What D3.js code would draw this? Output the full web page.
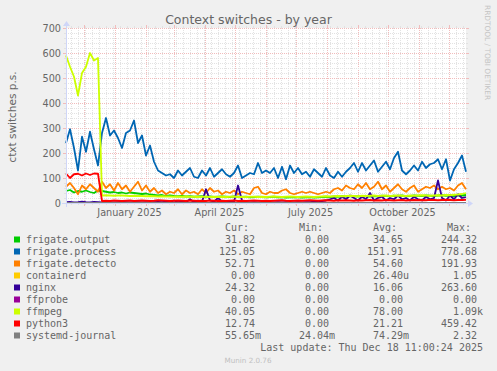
<!DOCTYPE html>
<html>
<head>
<meta charset="utf-8">
<script src="https://cdn.jsdelivr.net/npm/d3@7"></script>
<style>
  html, body { margin: 0; padding: 0; background: #f0f0f0; }
  svg { display: block; }
  text { fill: #666; }
</style>
</head>
<body>
<svg id="chart" width="497" height="371"></svg>
<script>
/* Munin style "Context switches - by year" graph */

const TITLE = 'Context switches - by year';
const Y_LABEL = 'ctxt switches p.s.';
const LAST_UPDATE = 'Last update: Thu Dec 18 11:00:24 2025';
const VERSION = 'Munin 2.0.76';
const WATERMARK = 'RRDTOOL / TOBI OETIKER';

const END = Date.UTC(2025, 11, 18, 11, 0, 24);
const SPAN_DAYS = 400;
const START = END - SPAN_DAYS * 86400e3;

const yTicks = [0, 100, 200, 300, 400, 500, 600, 700];
const xLabelMonths = ['January 2025', 'April 2025', 'July 2025', 'October 2025'];

// ── series (values evenly spread over the 400 days)
const frigateOutput = [
  48, 52, 42, 48, 45, 50, 44, 40, 50, 48,
  45, 42, 44, 40, 42, 38, 42, 40, 38, 36,
  38, 34, 32, 30, 32, 28, 30, 28, 27, 28,
  26, 27, 25, 26, 27, 25, 26, 24, 25, 26,
  25, 24, 26, 25, 24, 25, 23, 24, 25, 24,
  23, 24, 25, 23, 24, 22, 23, 24, 23, 22,
  23, 24, 22, 23, 24, 25, 24, 26, 25, 27,
  26, 28, 27, 26, 28, 27, 26, 28, 27, 29,
  28, 27, 29, 28, 30, 27, 28, 30, 29, 28,
  30, 29, 28, 30, 31, 29, 30, 28, 31, 30,
  32
];
const frigateProcess = [
  240, 295, 220, 130, 265, 205, 285, 215, 150, 280,
  340, 270, 290, 260, 220, 280, 290, 330, 240, 270,
  190, 230, 165, 130, 120, 110, 115, 100, 130, 110,
  125, 140, 105, 100, 130, 110, 140, 105, 120, 135,
  115, 105, 120, 150, 100, 110, 120, 115, 160, 120,
  130, 120, 140, 100, 145, 95, 150, 120, 140, 115,
  125, 105, 135, 120, 105, 140, 110, 100, 125, 105,
  125, 140, 160, 125, 160, 130, 150, 170, 125, 145,
  165, 135, 180, 205, 130, 115, 130, 150, 130, 165,
  140, 155, 160, 175, 135, 175, 90, 135, 160, 190,
  125
];
const frigateDetecto = [
  65, 80, 60, 35, 70, 55, 75, 60, 45, 85,
  60, 75, 50, 80, 55, 70, 45, 65, 85, 50,
  70, 45, 60, 40, 50, 35, 45, 40, 55, 35,
  50, 40, 45, 35, 55, 40, 60, 45, 50, 35,
  45, 40, 50, 35, 45, 40, 35, 60, 65, 40,
  35, 45, 40, 40, 50, 55, 40, 35, 40, 45,
  40, 45, 40, 35, 40, 45, 40, 55, 60, 50,
  70, 60, 55, 75, 60, 80, 55, 65, 85, 55,
  70, 45, 60, 75, 55, 45, 60, 70, 45, 55,
  65, 60, 70, 55, 65, 55, 60, 50, 70, 80,
  55
];
const containerd = [0, 0];
const nginx = [
  3, 4, 2, 3, 5, 3, 2, 4, 3, 2,
  3, 3, 2, 3, 4, 3, 2, 3, 3, 2,
  3, 2, 3, 4, 3, 5, 3, 10, 3, 5,
  3, 15, 3, 10, 5, 55, 10, 5, 20, 5,
  3, 8, 5, 70, 10, 3, 2, 3, 2, 2,
  3, 2, 2, 3, 2, 3, 2, 2, 3, 2,
  3, 3, 5, 4, 8, 10, 15, 20, 10, 25,
  15, 30, 20, 10, 25, 15, 40, 10, 20, 25,
  10, 20, 15, 30, 15, 20, 10, 25, 15, 10,
  25, 15, 20, 90, 20, 10, 30, 15, 35, 20,
  24
];
const ffprobe = [0, 0];
const ffmpeg = [
  590, 545, 505, 430, 520, 545, 600, 570, 580, 30,
  31, 30, 29, 30, 30, 29, 28, 29, 28, 28,
  27, 28, 27, 26, 27, 26, 26, 25, 26, 25,
  26, 25, 25, 24, 25, 25, 24, 25, 24, 25,
  24, 25, 26, 24, 25, 24, 25, 25, 24, 25,
  24, 25, 26, 25, 24, 25, 26, 25, 24, 25,
  26, 25, 24, 25, 26, 27, 26, 27, 28, 27,
  28, 29, 28, 27, 29, 28, 29, 30, 28, 29,
  30, 28, 29, 30, 29, 28, 30, 29, 30, 31,
  30, 29, 30, 31, 30, 32, 31, 33, 34, 36,
  40
];
const python3 = [
  118, 100, 115, 117, 110, 118, 112, 118, 117, 8,
  9, 8, 10, 9, 8, 9, 10, 8, 9, 10,
  9, 8, 9, 11, 10, 9, 8, 9, 10, 9,
  8, 10, 9, 8, 9, 8, 10, 9, 8, 9,
  8, 9, 10, 8, 9, 8, 9, 10, 9, 8,
  9, 8, 9, 10, 11, 9, 8, 9, 10, 9,
  10, 11, 10, 9, 10, 11, 10, 9, 11, 10,
  11, 10, 9, 11, 10, 11, 12, 10, 11, 10,
  12, 11, 10, 11, 12, 10, 11, 12, 11, 12,
  11, 13, 12, 11, 12, 13, 12, 11, 12, 12,
  13
];
const systemdJournal = [0.06, 0.05];

const seriesNames  = ['frigate.output', 'frigate.process', 'frigate.detecto', 'containerd',
                      'nginx', 'ffprobe', 'ffmpeg', 'python3', 'systemd-journal'];
const seriesColors = ['#00cc00', '#0066b3', '#ff8000', '#ffcc00',
                      '#330099', '#990099', '#ccff00', '#ff0000', '#808080'];
const seriesValues = [frigateOutput, frigateProcess, frigateDetecto, containerd,
                      nginx, ffprobe, ffmpeg, python3, systemdJournal];

const statHeads = ['Cur:', 'Min:', 'Avg:', 'Max:'];
const statCur = ['31.82', '125.05', '52.71', '0.00', '24.32', '0.00', '40.05', '12.74', '55.65m'];
const statMin = ['0.00', '0.00', '0.00', '0.00', '0.00', '0.00', '0.00', '0.00', '24.04m'];
const statAvg = ['34.65', '151.91', '54.60', '26.40u', '16.06', '0.00', '78.00', '21.21', '74.29m'];
const statMax = ['244.32', '778.68', '191.93', '1.05', '263.60', '0.00', '1.09k', '459.42', '2.32'];

// ──────────────  layout

const X0 = 66, X1 = 466, Y0 = 203, Y1 = 28;
const AXIS_C = '#cfd6f8';
const GRID_C = '#e2e2e2';
const MGRID_C = '#f1bcbc';
const SANS = 'DejaVu Sans, sans-serif';
const MONO = 'DejaVu Sans Mono, monospace';

const svg = d3.select('#chart');
const x = d3.scaleUtc().domain([START, END]).range([X0, X1]);
const y = d3.scaleLinear().domain([0, 700]).range([Y0, Y1]);

svg.append('rect').attr('width', 497).attr('height', 371).attr('fill', '#f0f0f0');
svg.append('rect').attr('x', X0).attr('y', Y1).attr('width', X1 - X0).attr('height', Y0 - Y1).attr('fill', '#fff');

// ──────────────  grid

const grid = svg.append('g').attr('shape-rendering', 'crispEdges');
const months = d3.utcMonth.range(START, END);
const monthSet = new Set(months.map(m => +d3.utcDay.floor(m)));
const weeks = d3.utcMonday.range(START, END).filter(w => !monthSet.has(+w));

function vline(t, col, tick) {
  const px = Math.round(x(t)) + 0.5;
  grid.append('line').attr('x1', px).attr('x2', px).attr('y1', Y1).attr('y2', Y0)
    .attr('stroke', col).attr('stroke-dasharray', '1,1');
  grid.append('line').attr('x1', px).attr('x2', px).attr('y1', Y1 - tick).attr('y2', Y1).attr('stroke', col);
  grid.append('line').attr('x1', px).attr('x2', px).attr('y1', Y0).attr('y2', Y0 + tick).attr('stroke', col);
}
function hline(v, col, tick) {
  const py = Math.round(y(v)) + 0.5;
  grid.append('line').attr('x1', X0).attr('x2', X1).attr('y1', py).attr('y2', py)
    .attr('stroke', col).attr('stroke-dasharray', '1,1');
  grid.append('line').attr('x1', X0 - tick).attr('x2', X0).attr('y1', py).attr('y2', py).attr('stroke', col);
  grid.append('line').attr('x1', X1).attr('x2', X1 + tick).attr('y1', py).attr('y2', py).attr('stroke', col);
}

weeks.forEach(w => vline(w, GRID_C, 2));
months.forEach(m => vline(m, MGRID_C, 3));
d3.range(20, 701, 20).filter(v => v % 100).forEach(v => hline(v, GRID_C, 2));
yTicks.filter(v => v > 0).forEach(v => hline(v, MGRID_C, 3));

// ──────────────  lines

const dayToTime = d => START + d * 86400e3;
const line = d3.line()
  .x(d => x(dayToTime(d.day)))
  .y(d => y(d.v));

seriesValues.forEach((vals, k) => {
  const pts = vals.map((v, i) => ({ day: i * SPAN_DAYS / (vals.length - 1), v }));
  svg.append('path')
    .datum(pts)
    .attr('d', line)
    .attr('fill', 'none')
    .attr('stroke', seriesColors[k])
    .attr('stroke-width', 1.8)
    .attr('stroke-linejoin', 'round');
});

// ──────────────  axes + arrows

svg.append('line').attr('x1', X0 - 4).attr('x2', X1 + 4).attr('y1', Y0 + 0.5).attr('y2', Y0 + 0.5)
  .attr('stroke', AXIS_C).attr('shape-rendering', 'crispEdges');
svg.append('line').attr('x1', X0 + 0.5).attr('x2', X0 + 0.5).attr('y1', Y0 + 4).attr('y2', Y1 - 4)
  .attr('stroke', AXIS_C).attr('shape-rendering', 'crispEdges');
svg.append('path').attr('fill', AXIS_C)
  .attr('d', `M${X1 + 2},${Y0 - 3}L${X1 + 2},${Y0 + 4}L${X1 + 7},${Y0 + 0.5}Z`);
svg.append('path').attr('fill', AXIS_C)
  .attr('d', `M${X0 - 3},${Y1 - 2}L${X0 + 4},${Y1 - 2}L${X0 + 0.5},${Y1 - 7}Z`);

// ──────────────  axis labels

svg.append('g').selectAll('text').data(yTicks).join('text')
  .attr('x', 61).attr('y', d => y(d) + 3.5)
  .attr('text-anchor', 'end')
  .style('font', `9.7px ${SANS}`)
  .text(d => d);

const labelMonths = months.filter(m => m.getUTCMonth() % 3 === 0);
svg.append('g').selectAll('text').data(labelMonths).join('text')
  .attr('x', d => x(+d + 15 * 86400e3)).attr('y', 216)
  .attr('text-anchor', 'middle')
  .style('font', `9.7px ${SANS}`)
  .text((d, i) => xLabelMonths[i]);

svg.append('text').attr('x', 248.5).attr('y', 24).attr('text-anchor', 'middle')
  .style('font', `12.5px ${SANS}`).text(TITLE);

svg.append('text').attr('transform', 'translate(16,117) rotate(-90)').attr('text-anchor', 'middle')
  .style('font', `10.5px ${SANS}`).text(Y_LABEL);

svg.append('text').attr('transform', 'translate(485,5) rotate(90)')
  .style('font', `7.4px ${SANS}`).style('fill', '#c4c4c4').text(WATERMARK);

// ──────────────  legend

const legend = svg.append('g').style('font', `10px ${MONO}`);
const colRight = [255, 329, 403, 477];
const ROW0 = 243, ROW_H = 12;

statHeads.forEach((h, j) => {
  legend.append('text').attr('x', colRight[j] - 6).attr('y', ROW0 - ROW_H)
    .attr('text-anchor', 'end').text(h);
});

const stats = [statCur, statMin, statAvg, statMax];
seriesNames.forEach((name, i) => {
  const ry = ROW0 + i * ROW_H;
  legend.append('rect').attr('x', 14).attr('y', ry - 6.5).attr('width', 6).attr('height', 6)
    .attr('fill', seriesColors[i]);
  legend.append('text').attr('x', 26).attr('y', ry).text(name);
  stats.forEach((col, j) => {
    const m = col[i].match(/^([\d.]+)([a-zA-Z]?)$/);
    legend.append('text').attr('x', colRight[j]).attr('y', ry).attr('text-anchor', 'end').text(m[1]);
    if (m[2]) legend.append('text').attr('x', colRight[j]).attr('y', ry).text(m[2]);
  });
});

legend.append('text').attr('x', 483).attr('y', ROW0 + 9 * ROW_H)
  .attr('text-anchor', 'end').text(LAST_UPDATE);

svg.append('text').attr('x', 248).attr('y', 362.5).attr('text-anchor', 'middle')
  .style('font', `7.2px ${SANS}`).style('fill', '#c0c0c0').text(VERSION);
</script>
</body>
</html>
